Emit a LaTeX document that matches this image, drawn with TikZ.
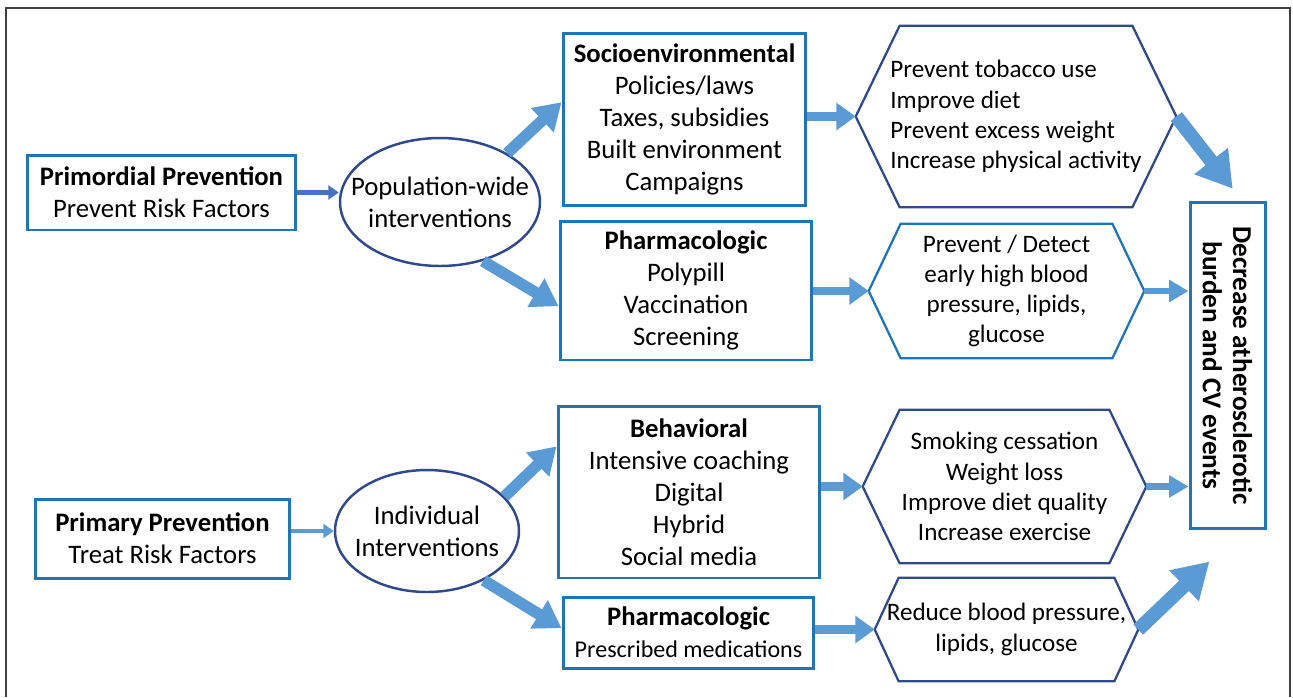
\documentclass[tikz,border=0pt]{standalone}
\usepackage{fontspec}
\setmainfont{Carlito}
\usetikzlibrary{shapes.geometric,arrows.meta}

\definecolor{boxblue}{HTML}{1F74BA}
\definecolor{navy}{HTML}{2E4A8C}
\definecolor{arrowblue}{HTML}{5B9BD5}
\definecolor{darkarrow}{HTML}{4472C4}

\tikzset{
  every node/.style={font=\fontsize{15.2}{18.2}\selectfont},
  box/.style={draw=boxblue, line width=1.7pt, align=center, inner sep=0pt},
  oval/.style={ellipse, draw=navy, line width=1.4pt, align=center, inner sep=-1cm},
  hexa/.style={rectangle, inner sep=0pt, align=center, font=\fontsize{14.3}{17.2}\selectfont},
  hexline/.style={draw=navy, line width=1.3pt, line join=miter},
  thin arrow/.style={-{Triangle[length=6pt,width=8pt]}, line width=2.5pt, arrowblue},
  small arrow/.style={-{Triangle[length=11pt,width=12pt]}, line width=3.8pt, arrowblue},
  mid arrow/.style={-{Triangle[length=11pt,width=15pt]}, line width=5pt, arrowblue},
  diag arrow/.style={-{Triangle[length=15pt,width=18pt]}, line width=6.5pt, arrowblue},
  big arrow/.style={-{Triangle[length=20pt,width=23pt]}, line width=8pt, arrowblue},
}

\begin{document}
\begin{tikzpicture}[x=0.02cm, y=-0.02cm]
  \useasboundingbox (0,0) rectangle (1293,697);
  \draw[line width=1.1pt, black!75] (6,697) -- (6,8) -- (1290,8) -- (1290,697);

  \node[box, minimum width=5.38cm, minimum height=1.5cm] (prim) at (161.5,192.5) {\textbf{Primordial Prevention}\\Prevent Risk Factors};
  \node[oval, minimum width=4cm, minimum height=2.56cm] (pop) at (440,202) {Population-wide\\interventions};
  \node[box, minimum width=4.86cm, minimum height=3.46cm] (socio) at (684.5,119.5) {\textbf{Socioenvironmental}\\Policies/laws\\Taxes, subsidies\\Built environment\\Campaigns};
  \node[box, minimum width=5.04cm, minimum height=2.78cm] (pharma) at (686,290.5) {\textbf{Pharmacologic}\\Polypill\\Vaccination\\Screening};
  \node[hexa, align=left, minimum width=6.4cm, minimum height=3.62cm] (hexa) at (1016,116.5) {Prevent tobacco use\\Improve diet\\Prevent excess weight\\Increase physical activity};
  \node[hexa, minimum width=5.5cm, minimum height=2.68cm] (hexb) at (1006.5,291) {Prevent / Detect\\early high blood\\pressure, lipids,\\glucose};
  \node[box, rotate=-90, font=\fontsize{15.5}{17.2}\selectfont\bfseries, minimum width=6.54cm, minimum height=1.5cm] (dec) at (1227.5,365.5) {Decrease atherosclerotic\\burden and CV events};

  \node[box, minimum width=5.1cm, minimum height=1.58cm] (prim2) at (162.5,538.5) {\textbf{Primary Prevention}\\Treat Risk Factors};
  \node[oval, minimum width=3.68cm, minimum height=2.44cm] (ind) at (427,531) {Individual\\Interventions};
  \node[box, minimum width=5.24cm, minimum height=3.44cm] (behav) at (689,492) {\textbf{Behavioral}\\Intensive coaching\\Digital\\Hybrid\\Social media};
  \node[box, minimum width=5.02cm, minimum height=1.42cm] (pharmb) at (688.5,632.5) {\textbf{Pharmacologic}\\{\fontsize{13.7}{16}\selectfont Prescribed medications}};
  \node[hexa, minimum width=5.66cm, minimum height=3.06cm] (hexc) at (1004.5,486.5) {Smoking cessation\\Weight loss\\Improve diet quality\\Increase exercise};
  \node[hexa, minimum width=5.26cm, minimum height=2.06cm] (hexd) at (1006.5,629.5) {Reduce blood pressure,\\lipids, glucose};

  \draw[hexline] (hexa.west) -- ([xshift=0.88cm]hexa.north west) -- ([xshift=-0.88cm]hexa.north east) -- (hexa.east) -- ([xshift=-0.88cm]hexa.south east) -- ([xshift=0.88cm]hexa.south west) -- cycle;
  \draw[hexline, draw=boxblue] (hexb.west) -- ([xshift=0.64cm]hexb.north west) -- ([xshift=-0.64cm]hexb.north east) -- (hexb.east) -- ([xshift=-0.64cm]hexb.south east) -- ([xshift=0.64cm]hexb.south west) -- cycle;
  \draw[hexline] (hexc.west) -- ([xshift=0.74cm]hexc.north west) -- ([xshift=-0.74cm]hexc.north east) -- (hexc.east) -- ([xshift=-0.74cm]hexc.south east) -- ([xshift=0.74cm]hexc.south west) -- cycle;
  \draw[hexline] (hexd.west) -- ([xshift=0.48cm]hexd.north west) -- ([xshift=-0.48cm]hexd.north east) -- (hexd.east) -- ([xshift=-0.48cm]hexd.south east) -- ([xshift=0.48cm]hexd.south west) -- cycle;

  \draw[thin arrow, darkarrow] (prim.east) -- (prim.east -| pop.west);
  \draw[thin arrow] (ind.west -| prim2.east) -- (ind.west);
  \draw[diag arrow] (pop.36) -- (socio.172);
  \draw[diag arrow] (pop.-54) -- (pharma.187);
  \draw[diag arrow] (ind.24) -- (behav.161);
  \draw[diag arrow] (ind.-41) -- (pharmb.178);
  \draw[mid arrow] (hexa.west -| socio.east) -- (hexa.west);
  \draw[mid arrow] (hexb.west -| pharma.east) -- (hexb.west);
  \draw[mid arrow] (hexc.west -| behav.east) -- (hexc.west);
  \draw[mid arrow] (hexd.west -| pharmb.east) -- (hexd.west);
  \draw[small arrow] (hexb.east) -- (hexb.east -| dec.south);
  \draw[small arrow] (hexc.east) -- (hexc.east -| dec.south);
  \draw[big arrow, shorten >=3mm] (hexa.east) -- (dec.175);
  \draw[big arrow, shorten >=9mm] (hexd.east) -- (dec.5);
\end{tikzpicture}
\end{document}
